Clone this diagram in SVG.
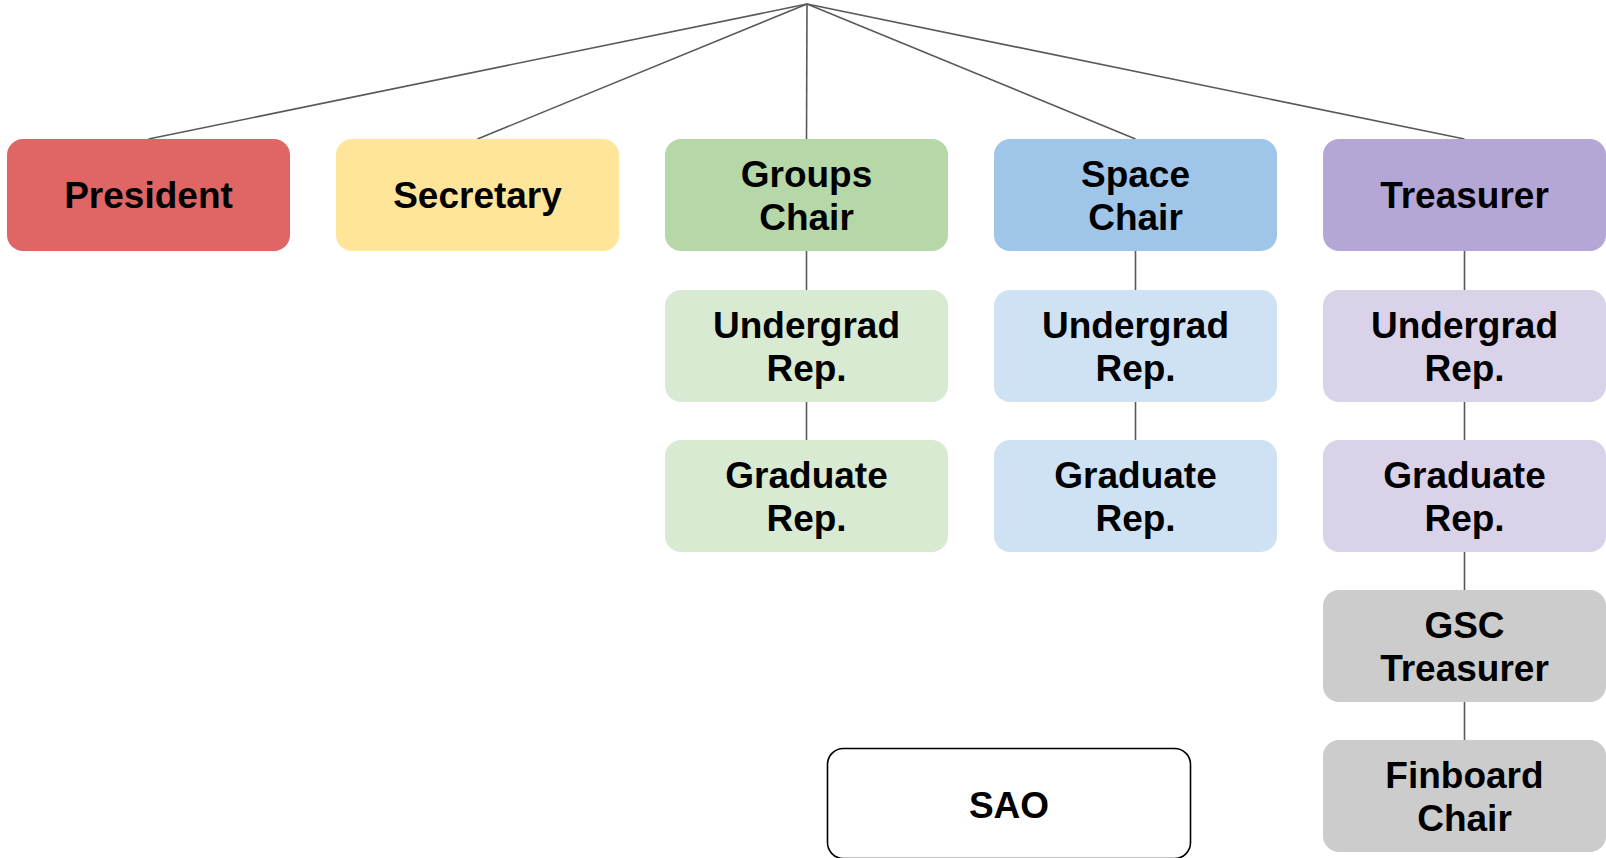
<svg xmlns="http://www.w3.org/2000/svg" width="1606" height="858" viewBox="0 0 1606 858">
<style>
.n{stroke:none}
.t{font-family:"Liberation Sans",Arial,sans-serif;font-weight:bold;font-size:37px;fill:#000;text-anchor:middle}
.c{stroke:#595959;stroke-width:1.6;fill:none}
</style>
<rect width="1606" height="858" fill="#fff"/>
<g id="connectors">
<line class="c" x1="807" y1="4" x2="148.5" y2="139"/>
<line class="c" x1="807" y1="4" x2="477.5" y2="139"/>
<line class="c" x1="807" y1="4" x2="806.5" y2="139"/>
<line class="c" x1="807" y1="4" x2="1135.5" y2="139"/>
<line class="c" x1="807" y1="4" x2="1464.5" y2="139"/>
<line class="c" x1="806.5" y1="251" x2="806.5" y2="290"/>
<line class="c" x1="806.5" y1="402" x2="806.5" y2="440"/>
<line class="c" x1="1135.5" y1="251" x2="1135.5" y2="290"/>
<line class="c" x1="1135.5" y1="402" x2="1135.5" y2="440"/>
<line class="c" x1="1464.5" y1="251" x2="1464.5" y2="290"/>
<line class="c" x1="1464.5" y1="402" x2="1464.5" y2="440"/>
<line class="c" x1="1464.5" y1="552" x2="1464.5" y2="590"/>
<line class="c" x1="1464.5" y1="702" x2="1464.5" y2="740"/>
</g>
<g id="president"><rect x="7" y="139" width="283" height="112" rx="16" fill="#e06666"/><text class="t" x="148.5" y="208">President</text></g>
<g id="secretary"><rect x="336" y="139" width="283" height="112" rx="16" fill="#ffe599"/><text class="t" x="477.5" y="208">Secretary</text></g>
<g id="groups-chair"><rect x="665" y="139" width="283" height="112" rx="16" fill="#b6d7a8"/><text class="t" x="806.5" y="187">Groups</text><text class="t" x="806.5" y="230">Chair</text></g>
<g id="space-chair"><rect x="994" y="139" width="283" height="112" rx="16" fill="#9fc5e8"/><text class="t" x="1135.5" y="187">Space</text><text class="t" x="1135.5" y="230">Chair</text></g>
<g id="treasurer"><rect x="1323" y="139" width="283" height="112" rx="16" fill="#b4a7d6"/><text class="t" x="1464.5" y="208">Treasurer</text></g>
<g id="groups-undergrad"><rect x="665" y="290" width="283" height="112" rx="16" fill="#d9ead3"/><text class="t" x="806.5" y="338">Undergrad</text><text class="t" x="806.5" y="381">Rep.</text></g>
<g id="groups-graduate"><rect x="665" y="440" width="283" height="112" rx="16" fill="#d9ead3"/><text class="t" x="806.5" y="488">Graduate</text><text class="t" x="806.5" y="531">Rep.</text></g>
<g id="space-undergrad"><rect x="994" y="290" width="283" height="112" rx="16" fill="#cfe2f3"/><text class="t" x="1135.5" y="338">Undergrad</text><text class="t" x="1135.5" y="381">Rep.</text></g>
<g id="space-graduate"><rect x="994" y="440" width="283" height="112" rx="16" fill="#cfe2f3"/><text class="t" x="1135.5" y="488">Graduate</text><text class="t" x="1135.5" y="531">Rep.</text></g>
<g id="treasurer-undergrad"><rect x="1323" y="290" width="283" height="112" rx="16" fill="#d9d2e9"/><text class="t" x="1464.5" y="338">Undergrad</text><text class="t" x="1464.5" y="381">Rep.</text></g>
<g id="treasurer-graduate"><rect x="1323" y="440" width="283" height="112" rx="16" fill="#d9d2e9"/><text class="t" x="1464.5" y="488">Graduate</text><text class="t" x="1464.5" y="531">Rep.</text></g>
<g id="gsc-treasurer"><rect x="1323" y="590" width="283" height="112" rx="16" fill="#cccccc"/><text class="t" x="1464.5" y="638">GSC</text><text class="t" x="1464.5" y="681">Treasurer</text></g>
<g id="finboard-chair"><rect x="1323" y="740" width="283" height="112" rx="16" fill="#cccccc"/><text class="t" x="1464.5" y="788">Finboard</text><text class="t" x="1464.5" y="831">Chair</text></g>
<g id="sao"><rect x="827.5" y="748.5" width="363" height="110" rx="16" fill="#fff" stroke="#000" stroke-width="1.6"/><text class="t" x="1009" y="818">SAO</text></g>
</svg>
